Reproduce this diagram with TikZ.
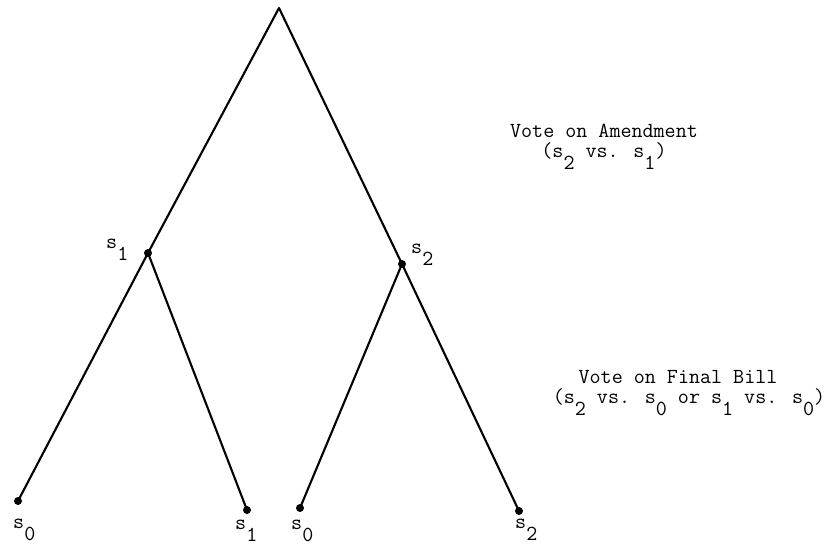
\documentclass[tikz,border=0pt]{standalone}
\usepackage{tikz}
\usetikzlibrary{positioning}
\newcommand{\sx}[1]{s\raisebox{-0.6em}{#1}}

\begin{document}
\begin{tikzpicture}[x=0.03cm,y=-0.03cm,
    br/.style={line width=1.8pt,line join=round},
    dt/.style={circle,fill,inner sep=0pt,minimum size=0.24cm},
    tx/.style={font=\fontsize{18.3}{22}\selectfont\ttfamily,inner sep=0pt}
]
\useasboundingbox (0,0) rectangle (829,546);
% tree
\coordinate (top) at (279,8);
\node[dt] (a) at (148,253) {};
\node[dt] (b) at (402,264) {};
\node[dt] (l1) at (18,501) {};
\node[dt] (l2) at (247,510) {};
\node[dt] (l3) at (300,508) {};
\node[dt] (l4) at (519,511) {};
\draw[br] (a.center) -- (top) -- (b.center);
\draw[br] (l1.center) -- (a.center) -- (l2.center);
\draw[br] (l3.center) -- (b.center) -- (l4.center);
% outcomes
\node[tx,anchor=base west] (sa) at (106,248) {\sx{1}};
\node[tx,anchor=base west] (sb) at (411,253) {\sx{2}};
\node[tx,anchor=base west] (s1) at (13,528) {\sx{0}};
\node[tx,anchor=base west] (s2) at (235,529) {\sx{1}};
\node[tx,anchor=base west] (s3) at (291,529) {\sx{0}};
\node[tx,anchor=base west] (s4) at (515,528) {\sx{2}};
% stages
\node[tx,anchor=base] (amd) at (604,137) {Vote on Amendment};
\node[tx,anchor=base] (amdv) at (604,157) {(\sx{2} vs. \sx{1})};
\node[tx,anchor=base] (fin) at (678,383) {Vote on Final Bill};
\node[tx,anchor=base] (finv) at (689,403) {(\sx{2} vs. \sx{0} or \sx{1} vs. \sx{0})};
\end{tikzpicture}
\end{document}
